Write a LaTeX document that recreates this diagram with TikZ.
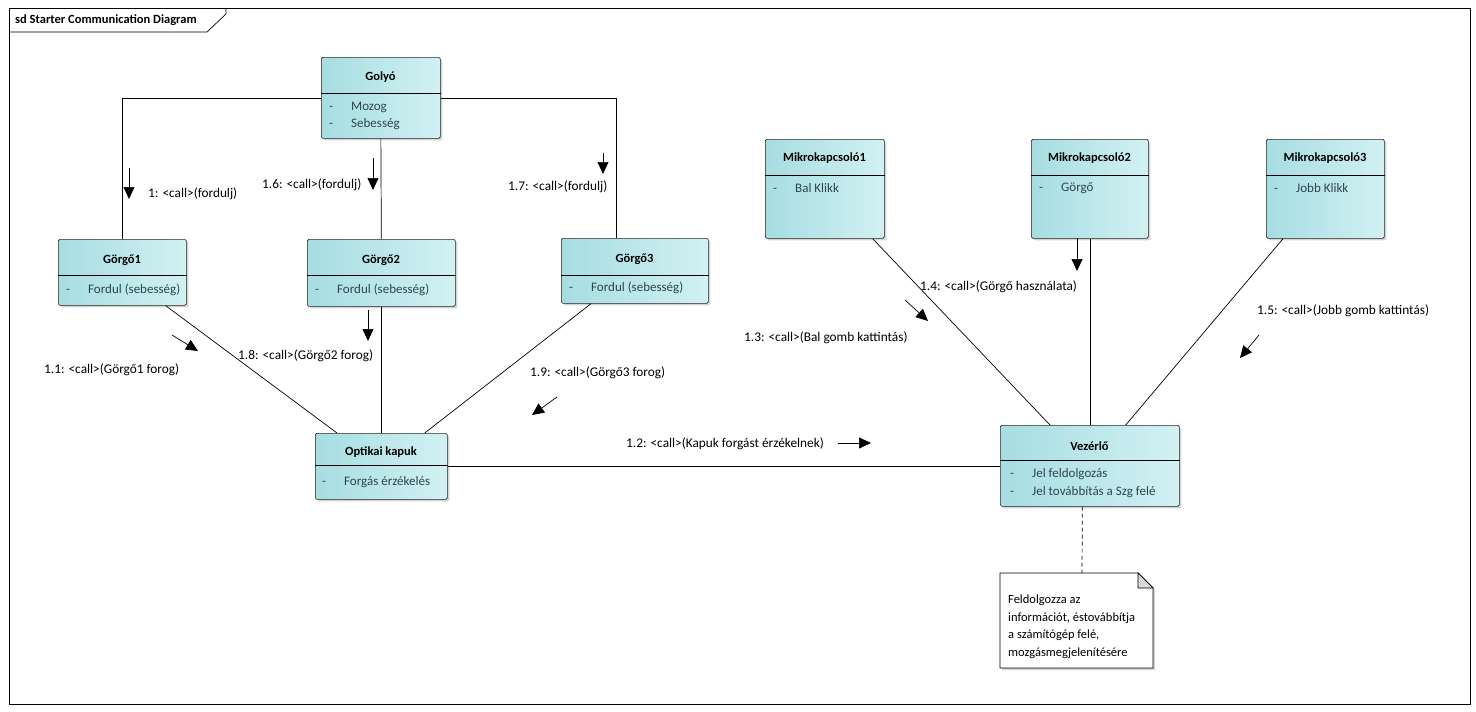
\documentclass[tikz,border=0pt]{standalone}
\usepackage{fontspec}
\setmainfont{Carlito}
\usetikzlibrary{arrows.meta,shadows}
\definecolor{cyL}{RGB}{166,221,225}
\definecolor{cyR}{RGB}{210,241,243}
\definecolor{attrc}{RGB}{45,70,80}
\tikzset{
  cls/.style={draw=black!85, line width=0.7pt, rounded corners=1.5pt, left color=cyL, right color=cyR,
     drop shadow={shadow xshift=2pt, shadow yshift=-2pt, opacity=0.35}, anchor=north west, inner sep=0pt},
  ttl/.style={font=\fontsize{12.5}{14}\selectfont\bfseries, inner sep=0pt},
  attr/.style={font=\fontsize{13}{15}\selectfont, text=attrc, anchor=west, inner sep=0pt},
  lbl/.style={font=\fontsize{13.3}{15}\selectfont, anchor=west, inner sep=0pt},
  conn/.style={line width=0.7pt},
  msg/.style={line width=0.7pt, -{Triangle[length=12pt,width=11pt]}},
  hdr/.style={line width=0.7pt}
}
\newcommand{\att}[1]{\makebox[22pt][l]{-}#1}
\begin{document}
\begin{tikzpicture}[x=1pt,y=-1pt]
\useasboundingbox (0,0) rectangle (1476,712);
% frame
\node[draw, line width=0.7pt, anchor=north west, minimum width=1461pt, minimum height=696pt, inner sep=0pt] (frame) at (9,8) {};
\coordinate (tabA) at (9,32);
\coordinate (tabB) at (207,32);
\coordinate (tabC) at (226,14);
\coordinate (tabD) at (226,8);
\draw[conn] (tabA) -- (tabB) -- (tabC) -- (tabD);
\node[font=\fontsize{12.5}{14}\selectfont\bfseries, anchor=west, inner sep=0pt] (frameT) at (15,20) {sd Starter Communication Diagram};

% classes
\node[cls, minimum width=119pt, minimum height=81pt] (golyo) at (321,57) {};
\draw[hdr] ([yshift=-36pt]golyo.north west) -- ([yshift=-36pt]golyo.north east);
\node[ttl] (golyoT) at (380.5,77) {Golyó};
\node[attr] (golyoA1) at (329,107) {\att{Mozog}};
\node[attr] (golyoA2) at (329,124) {\att{Sebesség}};

\node[cls, minimum width=128pt, minimum height=66pt] (g1) at (58,239) {};
\draw[hdr] ([yshift=-36pt]g1.north west) -- ([yshift=-36pt]g1.north east);
\node[ttl] (g1T) at (122,260) {Görgő1};
\node[attr] (g1A) at (66,290) {\att{Fordul (sebesség)}};

\node[cls, minimum width=148pt, minimum height=67pt] (g2) at (307,239) {};
\draw[hdr] ([yshift=-36pt]g2.north west) -- ([yshift=-36pt]g2.north east);
\node[ttl] (g2T) at (381,260) {Görgő2};
\node[attr] (g2A) at (315,290) {\att{Fordul (sebesség)}};

\node[cls, minimum width=147pt, minimum height=65pt] (g3) at (561,238) {};
\draw[hdr] ([yshift=-37pt]g3.north west) -- ([yshift=-37pt]g3.north east);
\node[ttl] (g3T) at (634.5,259) {Görgő3};
\node[attr] (g3A) at (569,288) {\att{Fordul (sebesség)}};

\node[cls, minimum width=132pt, minimum height=66pt] (opt) at (315,433) {};
\draw[hdr] ([yshift=-32pt]opt.north west) -- ([yshift=-32pt]opt.north east);
\node[ttl] (optT) at (381,452) {Optikai kapuk};
\node[attr] (optA) at (322,482) {\att{Forgás érzékelés}};

\node[cls, minimum width=179pt, minimum height=81pt] (vez) at (1000,425) {};
\draw[hdr] ([yshift=-35pt]vez.north west) -- ([yshift=-35pt]vez.north east);
\node[ttl] (vezT) at (1089.5,446) {Vezérlő};
\node[attr] (vezA1) at (1010,474) {\att{Jel feldolgozás}};
\node[attr] (vezA2) at (1010,492) {\att{Jel továbbítás a Szg felé}};

\node[cls, minimum width=119pt, minimum height=99pt] (mk1) at (765,139) {};
\draw[hdr] ([yshift=-36pt]mk1.north west) -- ([yshift=-36pt]mk1.north east);
\node[ttl] (mk1T) at (824.5,158) {Mikrokapcsoló1};
\node[attr] (mk1A) at (773,188) {\att{Bal Klikk}};

\node[cls, minimum width=117pt, minimum height=99pt] (mk2) at (1031,139) {};
\draw[hdr] ([yshift=-36pt]mk2.north west) -- ([yshift=-36pt]mk2.north east);
\node[ttl] (mk2T) at (1089.5,158) {Mikrokapcsoló2};
\node[attr] (mk2A) at (1039,188) {\att{Görgő}};

\node[cls, minimum width=118pt, minimum height=99pt] (mk3) at (1266,139) {};
\draw[hdr] ([yshift=-36pt]mk3.north west) -- ([yshift=-36pt]mk3.north east);
\node[ttl] (mk3T) at (1325,158) {Mikrokapcsoló3};
\node[attr] (mk3A) at (1274,188) {\att{Jobb Klikk}};

% note
\coordinate (nA) at (1000,573);
\coordinate (nB) at (1138,573);
\coordinate (nC) at (1153,588);
\coordinate (nD) at (1153,668);
\coordinate (nE) at (1000,668);
\coordinate (nF) at (1138,588);
\filldraw[fill=white, line width=0.7pt, drop shadow={shadow xshift=2pt, shadow yshift=-2pt, opacity=0.35}] (nA) -- (nB) -- (nC) -- (nD) -- (nE) -- cycle;
\filldraw[fill=black!15, line width=0.7pt] (nB) -- (nF) -- (nC) -- cycle;
\node[font=\fontsize{12.5}{17.5}\selectfont, anchor=north west, align=left, inner sep=0pt] (noteT) at (1008,595)
  {Feldolgozza az\\információt, éstovábbítja\\a számítógép felé,\\mozgásmegjelenítésére};
\coordinate (noteTop) at (1082,573);

% connectors
\draw[conn] (golyo.west) -| (g1.north);
\draw[conn] (golyo.south) -- (g2.north);
\draw[conn] (golyo.east) -| ([xshift=-18.5pt]g3.north);
\draw[conn] ([xshift=-21pt]g1.south east) -- ([xshift=22pt]opt.north west);
\draw[conn] (g2.south) -- (opt.north);
\draw[conn] ([xshift=30pt]g3.south west) -- ([xshift=-23pt]opt.north east);
\draw[conn] (opt.east) -- (opt.east -| vez.west);
\draw[conn] ([xshift=-12pt]mk1.south east) -- ([xshift=50pt]vez.north west);
\draw[conn] ([xshift=0.5pt]mk2.south) -- ([xshift=0.5pt]mk2.south |- vez.north);
\draw[conn] ([xshift=17pt]mk3.south west) -- ([xshift=-54pt]vez.north east);
\draw[conn, dashed, dash pattern=on 4pt off 3pt] ([xshift=-7.5pt]vez.south) -- (noteTop);

% messages
\coordinate (m1a) at (129,168); \coordinate (m1b) at (129,199);
\draw[msg] (m1a) -- (m1b);
\node[lbl] (m1) at (148,194) {1: <call>(fordulj)};
\coordinate (m16a) at (373,158); \coordinate (m16b) at (373,190);
\draw[msg] (m16a) -- (m16b);
\node[lbl] (m16) at (262,185) {1.6: <call>(fordulj)};
\coordinate (m17a) at (603,153); \coordinate (m17b) at (603,174);
\draw[msg] (m17a) -- (m17b);
\node[lbl] (m17) at (508,187) {1.7: <call>(fordulj)};
\coordinate (m11a) at (172,335); \coordinate (m11b) at (198,351);
\draw[msg] (m11a) -- (m11b);
\node[lbl] (m11) at (44,370) {1.1: <call>(Görgő1 forog)};
\coordinate (m18a) at (368,310); \coordinate (m18b) at (368,341);
\draw[msg] (m18a) -- (m18b);
\node[lbl] (m18) at (238,356) {1.8: <call>(Görgő2 forog)};
\coordinate (m19a) at (557,397); \coordinate (m19b) at (532,415);
\draw[msg] (m19a) -- (m19b);
\node[lbl] (m19) at (530,373) {1.9: <call>(Görgő3 forog)};
\coordinate (m12a) at (838,443); \coordinate (m12b) at (871,443);
\draw[msg] (m12a) -- (m12b);
\node[lbl] (m12) at (626,444) {1.2: <call>(Kapuk forgást érzékelnek)};
\coordinate (m14a) at (1077,238); \coordinate (m14b) at (1077,271);
\draw[msg] (m14a) -- (m14b);
\node[lbl] (m14) at (920,287) {1.4: <call>(Görgő használata)};
\coordinate (m13a) at (905,300); \coordinate (m13b) at (928,321);
\draw[msg] (m13a) -- (m13b);
\node[lbl] (m13) at (744,338) {1.3: <call>(Bal gomb kattintás)};
\coordinate (m15a) at (1259,335); \coordinate (m15b) at (1240,358);
\draw[msg] (m15a) -- (m15b);
\node[lbl] (m15) at (1257,311) {1.5: <call>(Jobb gomb kattintás)};
\end{tikzpicture}
\end{document}
